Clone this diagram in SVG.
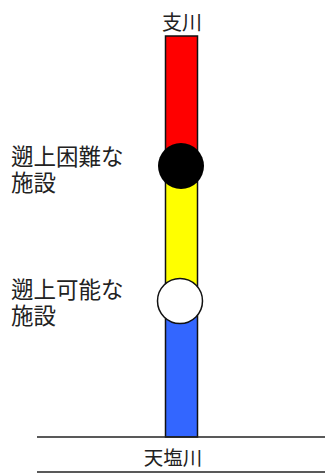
<svg xmlns="http://www.w3.org/2000/svg" width="325" height="474" viewBox="0 0 325 474">
<style>
text{font-family:"Noto Sans CJK JP","Noto Sans CJK SC",sans-serif;fill:#222}
.lbl{font-size:22.5px}
.seg{stroke:#111;stroke-width:1.5}
.ln{stroke:#222;stroke-width:1.5;fill:none}
</style>
<rect width="325" height="474" fill="#fff"/>
<g id="connectors">
<rect class="seg" x="165.5" y="36" width="32" height="130" fill="#ff0000"/>
<rect class="seg" x="165.5" y="166" width="32" height="135" fill="#ffff00"/>
<rect class="seg" x="165.5" y="301" width="32" height="136" fill="#3366ff"/>
<line class="ln" x1="37" y1="437" x2="325" y2="437"/>
<line class="ln" x1="37" y1="472" x2="325" y2="472"/>
</g>
<g id="tributary"><text x="182" y="30" font-size="20" text-anchor="middle">支川</text></g>
<g id="impassable"><circle cx="181" cy="166" r="23" fill="#000"/>
<text class="lbl" x="11" y="165"><tspan x="11">遡上困難な</tspan><tspan x="11" dy="26">施設</tspan></text></g>
<g id="passable"><circle cx="180" cy="301" r="22.5" fill="#fff" stroke="#111" stroke-width="1.5"/>
<text class="lbl" x="11" y="298"><tspan x="11">遡上可能な</tspan><tspan x="11" dy="26">施設</tspan></text></g>
<g id="main"><text x="173" y="465" font-size="19.5" text-anchor="middle">天塩川</text></g>
</svg>
